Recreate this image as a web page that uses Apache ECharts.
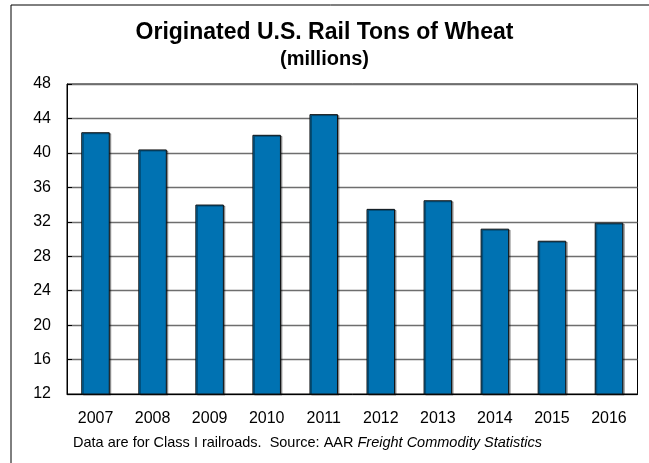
<!DOCTYPE html>
<html>
<head>
<meta charset="utf-8">
<script src="https://cdn.jsdelivr.net/npm/echarts@6/dist/echarts.min.js"></script>
<style>
  html, body { margin: 0; padding: 0; background: #fff; }
  #chart { width: 649px; height: 463px; }
</style>
</head>
<body>
<div id="chart"></div>
<script>
// Originated rail tons of wheat, millions, by year
const years = ['2007', '2008', '2009', '2010', '2011', '2012', '2013', '2014', '2015', '2016'];
const tons = [42.4, 40.4, 34.0, 42.1, 44.5, 33.5, 34.5, 31.2, 29.8, 31.9];
const yTicks = { min: 12, max: 48, step: 4 };

const FONT = 'Liberation Sans, Arial, sans-serif';
const chart = echarts.init(document.getElementById('chart'), null, { renderer: 'canvas' });

chart.setOption({
  animation: false,
  backgroundColor: '#ffffff',
  title: [
    {
      text: 'Originated U.S. Rail Tons of Wheat',
      left: 'center', top: 16,
      textStyle: { fontFamily: FONT, fontSize: 23, fontWeight: 'bold', color: '#000' }
    },
    {
      text: '(millions)',
      left: 'center', top: 44,
      textStyle: { fontFamily: FONT, fontSize: 20, fontWeight: 'bold', color: '#000' }
    }
  ],
  grid: {
    left: 67, right: 11.5, top: 84, bottom: 69,
    show: true, borderColor: '#000', borderWidth: 1, backgroundColor: 'transparent'
  },
  xAxis: {
    type: 'category',
    data: years,
    axisLine: { show: true, lineStyle: { color: '#000', width: 1 } },
    axisTick: { show: false },
    axisLabel: { fontFamily: FONT, fontSize: 16, color: '#000', margin: 17 }
  },
  yAxis: {
    type: 'value',
    min: yTicks.min, max: yTicks.max, interval: yTicks.step,
    axisLine: { show: true, lineStyle: { color: '#000', width: 1 } },
    axisTick: { show: true, inside: true, length: 5, lineStyle: { color: '#000' } },
    axisLabel: { fontFamily: FONT, fontSize: 16, color: '#000', margin: 16 },
    splitLine: { show: true, lineStyle: { color: '#6e6e6e', width: 1.3 } }
  },
  series: [{
    type: 'bar',
    data: tons,
    barWidth: '50%',
    itemStyle: {
      color: '#0072b2',
      borderColor: '#101010',
      borderWidth: 1,
      shadowColor: 'rgba(0,0,0,0.35)',
      shadowOffsetX: 1.5,
      shadowOffsetY: 1
    },
    label: { show: false }
  }],
  graphic: [
    {
      type: 'rect',
      shape: { x: 11, y: 5, width: 660, height: 480 },
      style: { fill: 'none', stroke: '#000', lineWidth: 1 },
      silent: true
    },
    {
      type: 'text',
      left: 73, top: 435,
      style: {
        text: 'Data are for Class I railroads.  Source: AAR {i|Freight Commodity Statistics}',
        fontFamily: FONT, fontSize: 14.5, fill: '#000',
        rich: { i: { fontFamily: FONT, fontSize: 14.5, fontStyle: 'italic', fill: '#000' } }
      }
    }
  ]
});
</script>
</body>
</html>
